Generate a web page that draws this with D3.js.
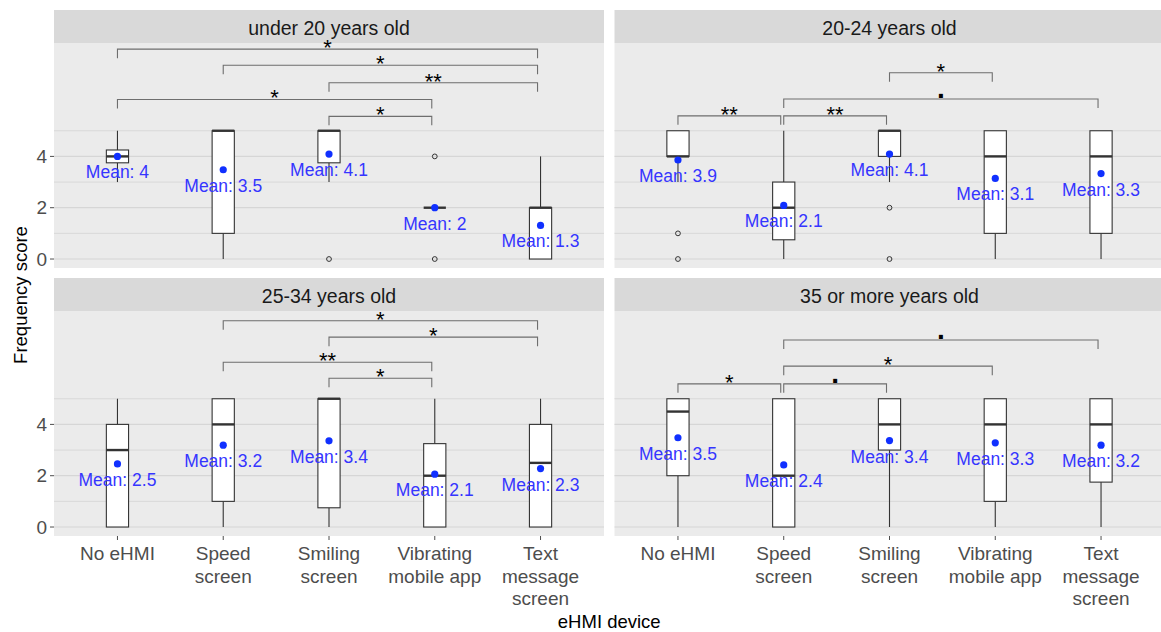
<!DOCTYPE html>
<html>
<head>
<meta charset="utf-8">
<script src="https://cdn.jsdelivr.net/npm/d3@7"></script>
<style>
  body { margin: 0; background: #fff; }
  text { font-family: "Liberation Sans", Arial, sans-serif; }
</style>
</head>
<body>
<div id="chart"></div>
<script>
const categories = ['No eHMI', 'Speed screen', 'Smiling screen', 'Vibrating mobile app', 'Text message screen']
const tickLines = [['No eHMI'], ['Speed', 'screen'], ['Smiling', 'screen'], ['Vibrating', 'mobile app'], ['Text', 'message', 'screen']]
const ageGroups = ['under 20 years old', '20-24 years old', '25-34 years old', '35 or more years old']

// [lower whisker, q1, median, q3, upper whisker] per device
const boxStats = [
  [[3, 3.75, 4, 4.25, 5], [0, 1, 5, 5, 5], [3, 3.75, 5, 5, 5], [2, 2, 2, 2, 2], [0, 0, 2, 2, 4]],
  [[3, 4, 4, 5, 5], [0, 0.75, 2, 3, 5], [3, 4, 5, 5, 5], [0, 1, 4, 5, 5], [0, 1, 4, 5, 5]],
  [[0, 0, 3, 4, 5], [0, 1, 4, 5, 5], [0, 0.75, 5, 5, 5], [0, 0, 2, 3.25, 5], [0, 0, 2.5, 4, 5]],
  [[0, 2, 4.5, 5, 5], [0, 0, 2, 5, 5], [0, 3, 4, 5, 5], [0, 1, 4, 5, 5], [0, 1.75, 4, 5, 5]]
]
const means = [
  [4.0, 3.48, 4.09, 2.0, 1.31],
  [3.86, 2.09, 4.09, 3.14, 3.33],
  [2.46, 3.19, 3.36, 2.06, 2.28],
  [3.48, 2.42, 3.37, 3.28, 3.19]
]
const outliers = [
  [[], [], [0], [4, 0], []],
  [[1, 0], [], [2, 0], [], []],
  [[], [], [], [], []],
  [[], [], [], [], []]
]
// significance brackets: [from, to, y, label]
const brackets = [
  [[0, 4, 8.18, '*'], [1, 4, 7.55, '*'], [2, 4, 6.87, '**'], [0, 3, 6.22, '*'], [2, 3, 5.56, '*']],
  [[2, 3, 7.26, '*'], [1, 4, 6.24, '.'], [0, 1, 5.58, '**'], [1, 2, 5.58, '**']],
  [[1, 4, 8.04, '*'], [2, 4, 7.40, '*'], [1, 3, 6.42, '**'], [2, 3, 5.80, '*']],
  [[1, 4, 7.29, '.'], [1, 3, 6.27, '*'], [0, 1, 5.58, '*'], [1, 2, 5.58, '.']]
]
const yTicks = [0, 2, 4]
const yGrid = [0, 1, 2, 3, 4, 5]

const W = 1161, H = 632
const panelW = 550, stripH = 33
const panelXs = [54, 614.5]
const rows = [{ strip: 10, top: 43, bottom: 268 }, { strip: 278, top: 311, bottom: 536 }]

const svg = d3.select('#chart').append('svg').attr('width', W).attr('height', H)

const x = d3.scalePoint().domain(categories).range([0, panelW]).padding(0.6)
const step = x.step()
const boxW = step * 0.21
const darkLine = '#333333'

ageGroups.forEach((name, gi) => {
  const r = rows[Math.floor(gi / 2)]
  const px = panelXs[gi % 2]
  const y = d3.scaleLinear().domain([-0.35, 8.42]).range([r.bottom, r.top])
  const g = svg.append('g').attr('transform', `translate(${px},0)`)

  // strip
  g.append('rect').attr('x', 0).attr('y', r.strip).attr('width', panelW).attr('height', stripH).attr('fill', '#d9d9d9')
  g.append('text').attr('x', panelW / 2).attr('y', r.strip + stripH / 2 + 1).attr('text-anchor', 'middle')
    .attr('dominant-baseline', 'central').attr('font-size', 19.5).attr('fill', '#1a1a1a').text(name)

  // panel
  g.append('rect').attr('x', 0).attr('y', r.top).attr('width', panelW).attr('height', r.bottom - r.top).attr('fill', '#ebebeb')
  g.selectAll('line.grid').data(yGrid).enter().append('line').attr('class', 'grid')
    .attr('x1', 0).attr('x2', panelW).attr('y1', d => y(d)).attr('y2', d => y(d))
    .attr('stroke', '#d6d6d6').attr('stroke-width', d => d % 2 === 0 ? 1.2 : 0.9)

  // y axis on left column
  if (gi % 2 === 0) {
    const ya = g.append('g')
    yTicks.forEach(t => {
      ya.append('line').attr('x1', -4).attr('x2', 0).attr('y1', y(t)).attr('y2', y(t)).attr('stroke', '#4d4d4d')
      ya.append('text').attr('x', -7).attr('y', y(t)).attr('text-anchor', 'end').attr('dominant-baseline', 'central')
        .attr('font-size', 19).attr('fill', '#4d4d4d').text(t)
    })
  }

  // x axis on bottom row
  if (gi >= 2) {
    categories.forEach((c, ci) => {
      g.append('line').attr('x1', x(c)).attr('x2', x(c)).attr('y1', r.bottom).attr('y2', r.bottom + 4).attr('stroke', '#4d4d4d')
      const t = g.append('text').attr('text-anchor', 'middle').attr('font-size', 19).attr('fill', '#4d4d4d')
      tickLines[ci].forEach((line, li) => {
        t.append('tspan').attr('x', x(c)).attr('y', r.bottom + 24 + li * 22.5).text(line)
      })
    })
  }

  // boxes
  categories.forEach((c, ci) => {
    const [lo, q1, med, q3, hi] = boxStats[gi][ci]
    const cx = x(c)
    g.append('line').attr('x1', cx).attr('x2', cx).attr('y1', y(hi)).attr('y2', y(q3)).attr('stroke', darkLine).attr('stroke-width', 1.1)
    g.append('line').attr('x1', cx).attr('x2', cx).attr('y1', y(q1)).attr('y2', y(lo)).attr('stroke', darkLine).attr('stroke-width', 1.1)
    g.append('rect').attr('x', cx - boxW / 2).attr('y', y(q3)).attr('width', boxW).attr('height', Math.max(0, y(q1) - y(q3)))
      .attr('fill', '#fff').attr('stroke', darkLine).attr('stroke-width', 1.1)
    g.append('line').attr('x1', cx - boxW / 2).attr('x2', cx + boxW / 2).attr('y1', y(med)).attr('y2', y(med))
      .attr('stroke', darkLine).attr('stroke-width', 2.4)
    outliers[gi][ci].forEach(o => {
      g.append('circle').attr('cx', cx).attr('cy', y(o)).attr('r', 2.4).attr('fill', 'none').attr('stroke', darkLine).attr('stroke-width', 1)
    })
    const m = means[gi][ci]
    g.append('circle').attr('cx', cx).attr('cy', y(m)).attr('r', 3.6).attr('fill', '#1030ff')
    g.append('text').attr('x', cx).attr('y', y(m) + 16).attr('text-anchor', 'middle').attr('dominant-baseline', 'central')
      .attr('font-size', 17.5).attr('fill', '#3535ff').text('Mean: ' + (+m.toFixed(1)))
  })

  // significance brackets
  const tip = 0.35
  brackets[gi].forEach(([a, b, yv, lab]) => {
    const x1 = x(categories[a]), x2 = x(categories[b]) - 3
    g.append('path').attr('d', `M${x1},${y(yv - tip)}V${y(yv)}H${x2}V${y(yv - tip)}`)
      .attr('fill', 'none').attr('stroke', '#6e6e6e').attr('stroke-width', 1.1)
    const mid = (x1 + x2) / 2
    if (lab === '.') {
      g.append('text').attr('x', mid).attr('y', y(yv) - 1).attr('text-anchor', 'middle')
        .attr('font-size', 28).attr('font-weight', 'bold').attr('fill', '#000').text(lab)
    } else {
      g.append('text').attr('x', mid).attr('y', y(yv) + 6).attr('text-anchor', 'middle')
        .attr('font-size', 22).attr('fill', '#000').text(lab)
    }
  })
})

// axis titles
svg.append('text').attr('x', (panelXs[0] + panelXs[1] + panelW) / 2).attr('y', 621).attr('text-anchor', 'middle')
  .attr('dominant-baseline', 'central').attr('font-size', 18.5).attr('fill', '#000').text('eHMI device')
svg.append('text').attr('transform', 'translate(20,295) rotate(-90)').attr('text-anchor', 'middle')
  .attr('dominant-baseline', 'central').attr('font-size', 18.5).attr('fill', '#000').text('Frequency score')
</script>
</body>
</html>
